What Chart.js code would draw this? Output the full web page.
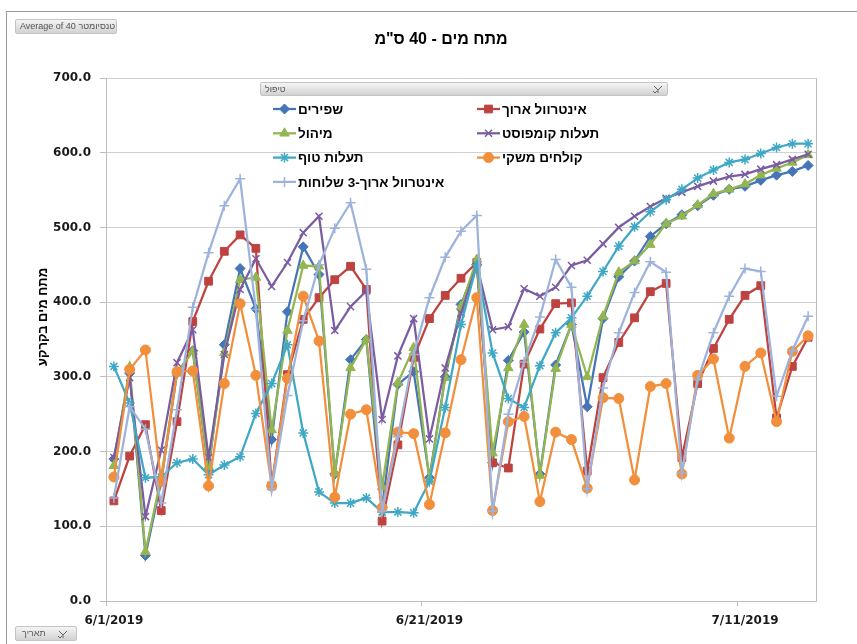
<!DOCTYPE html>
<html><head><meta charset="utf-8">
<script src="https://cdn.jsdelivr.net/npm/chart.js@4.4.0/dist/chart.umd.min.js"></script>
<style>
html,body{margin:0;padding:0;background:#fff;}
#wrap{position:relative;width:857px;height:644px;overflow:hidden;background:#fff;}
#frame{position:absolute;left:6px;top:11px;width:1000px;height:1000px;border-top:1px solid #9a9a9a;border-left:1px solid #9a9a9a;}
canvas{position:absolute;left:0;top:0;}
.btn{position:absolute;border:1px solid #c4c4c4;border-radius:2px;background:linear-gradient(#f4f4f4,#d2d2d2);font:9px "Liberation Sans",Arial,sans-serif;color:#555;box-sizing:border-box;white-space:nowrap;}
.btn svg{position:absolute;}
</style></head>
<body><div id="wrap"><div id="frame"></div><canvas id="c" width="857" height="644"></canvas>
<div class="btn" style="left:15px;top:19px;width:102px;height:15px;line-height:13px;padding-left:4px;" dir="ltr">Average of 40 טנסיומטר</div>
<div class="btn" style="left:260px;top:82px;width:408px;height:14px;line-height:12px;padding-left:4px;" dir="ltr"><span>טיפול</span>
<svg style="right:4px;top:2px" width="10" height="9" viewBox="0 0 10 9"><path d="M1 1 L5 5 L5 8 M9 1 L5 5" stroke="#666" fill="none" stroke-width="1"/><path d="M0 6 L2 8 L4 6" stroke="#666" fill="none" stroke-width="1"/></svg></div>
<div class="btn" style="left:15px;top:626px;width:62px;height:15px;line-height:13px;padding-left:6px;" dir="ltr"><span>תאריך</span>
<svg style="right:8px;top:3px" width="10" height="9" viewBox="0 0 10 9"><path d="M1 1 L5 5 L5 8 M9 1 L5 5" stroke="#666" fill="none" stroke-width="1"/><path d="M0 6 L2 8 L4 6" stroke="#666" fill="none" stroke-width="1"/></svg></div>
</div>
<script>
const dates = ['6/1/2019','6/2/2019','6/3/2019','6/4/2019','6/5/2019','6/6/2019','6/7/2019','6/8/2019','6/9/2019','6/10/2019',
'6/11/2019','6/12/2019','6/13/2019','6/14/2019','6/15/2019','6/16/2019','6/17/2019','6/18/2019','6/19/2019','6/20/2019',
'6/21/2019','6/22/2019','6/23/2019','6/24/2019','6/25/2019','6/26/2019','6/27/2019','6/28/2019','6/29/2019','6/30/2019',
'7/1/2019','7/2/2019','7/3/2019','7/4/2019','7/5/2019','7/6/2019','7/7/2019','7/8/2019','7/9/2019','7/10/2019',
'7/11/2019','7/12/2019','7/13/2019','7/14/2019','7/15/2019'];
const shownDates = ['6/1/2019','6/21/2019','7/11/2019'];
const yTicks = [0,100,200,300,400,500,600,700];

const chartTitle = 'מתח מים - 40 ס"מ';
const yTitle = 'מתח מים בקרקע';
const seriesNames = ['שפירים','אינטרוול ארוך','מיהול','תעלות קומפוסט','תעלות טוף','קולחים משקי','אינטרוול ארוך-3 שלוחות'];

const shapirim = [190,305,61,160,305,335,175,343,445,391,216,387,474,437,170,323,350,125,290,307,165,300,397,450,185,322,360,170,316,370,260,378,434,455,488,505,517,529,543,551,555,563,570,575,583];
const intervalArokh = [134,194,236,121,240,374,428,468,490,472,154,303,377,406,430,448,417,107,209,326,378,409,432,453,185,178,317,364,398,399,174,299,346,379,414,425,192,291,338,377,409,422,245,314,353];
const mihul = [181,313,66,166,305,334,180,332,430,433,229,362,449,448,171,312,350,153,292,339,162,299,394,457,198,312,370,168,311,370,300,381,440,455,477,505,515,530,545,551,558,570,579,587,597];
const taalotKompost = [192,299,113,202,319,363,192,330,417,458,421,453,493,515,362,394,415,243,328,378,217,312,385,450,363,367,418,408,420,449,456,478,500,515,528,539,547,555,562,568,571,578,584,591,598];
const taalotTuf = [314,265,165,166,185,190,169,182,193,251,291,343,225,146,131,131,138,119,119,118,160,259,370,450,332,271,259,315,359,379,408,441,475,501,521,537,551,566,577,587,591,599,607,612,612];
const kolchimMeshki = [166,310,336,160,307,308,154,291,398,302,154,298,408,348,139,250,256,125,226,224,129,225,323,406,121,240,247,133,226,216,151,272,271,162,287,291,170,302,324,218,314,332,240,334,355];
const interval3 = [138,260,230,131,256,393,466,529,565,390,150,275,375,450,499,533,444,120,220,330,406,460,495,516,120,250,320,380,457,420,150,285,359,413,454,440,171,296,359,408,445,441,274,335,381];

const seriesData = [shapirim,intervalArokh,mihul,taalotKompost,taalotTuf,kolchimMeshki,interval3];
const colors = ['#4575B8','#BE4340','#94B650','#7B5CA0','#3FA8C4','#F28F3C','#9DB3DC'];
const styles = ['rectRot','rect','triangle','crossRot','star','circle','cross'];
const radii = [5,5.5,5.5,5,5,5,5];
const filled = [true,true,true,false,false,true,false];

const datasets = seriesData.map((d,i)=>({
  label: seriesNames[i], data: d,
  borderColor: colors[i], backgroundColor: colors[i],
  borderWidth: 2.25, tension: 0,
  pointStyle: styles[i], pointRadius: radii[i], pointHoverRadius: radii[i],
  pointBackgroundColor: colors[i], pointBorderColor: colors[i],
  pointBorderWidth: filled[i] ? 1 : 1.5,
  order: 7 - i
}));

const axisFont = {family:'"DejaVu Sans", sans-serif', weight:'bold', size:12};

const overlay = {
  id:'overlay',
  afterDraw(chart){
    const ctx = chart.ctx, a = chart.chartArea;
    ctx.save();
    ctx.strokeStyle = '#bdbdbd'; ctx.lineWidth = 1;
    ctx.beginPath(); ctx.moveTo(Math.round(a.right)+0.5, a.top); ctx.lineTo(Math.round(a.right)+0.5, a.bottom); ctx.stroke();
    ctx.fillStyle = '#000';
    ctx.direction = 'rtl';
    ctx.textAlign = 'center'; ctx.textBaseline = 'middle';
    ctx.font = 'bold 16px "Liberation Sans", Arial, sans-serif';
    ctx.fillText(chartTitle, 441, 40);
    ctx.save();
    ctx.translate(43, 317); ctx.rotate(-Math.PI/2);
    ctx.font = 'bold 13px "Liberation Sans", Arial, sans-serif';
    ctx.fillText(yTitle, 0, 0);
    ctx.restore();
    const helpers = Chart.helpers;
    chart.data.datasets.forEach((ds,i)=>{
      const col = i % 2, row = Math.floor(i/2);
      const x0 = col ? 477 : 273;
      const y = 109 + row*24.3;
      ctx.strokeStyle = ds.borderColor; ctx.lineWidth = 2.25;
      ctx.beginPath(); ctx.moveTo(x0, y); ctx.lineTo(x0+23, y); ctx.stroke();
      ctx.fillStyle = ds.pointBackgroundColor; ctx.strokeStyle = ds.pointBorderColor;
      ctx.lineWidth = ds.pointBorderWidth;
      if (helpers && helpers.drawPoint) {
        helpers.drawPoint(ctx, {pointStyle: ds.pointStyle, radius: ds.pointRadius, borderWidth: ds.pointBorderWidth, rotation: 0}, x0+11.5, y);
      }
      ctx.fillStyle = '#000';
      ctx.direction = 'rtl'; ctx.textAlign = 'left'; ctx.textBaseline = 'middle';
      ctx.font = 'bold 13.5px "Liberation Sans", Arial, sans-serif';
      ctx.fillText(ds.label, x0+25, y+1);
    });
    ctx.restore();
  }
};

new Chart(document.getElementById('c'), {
  type: 'line',
  data: { labels: dates, datasets },
  options: {
    responsive: false, animation: false,
    layout: { padding: { top: 78, right: 41, bottom: 0, left: 0 } },
    plugins: { legend: {display:false}, title: {display:false}, tooltip: {enabled:false} },
    scales: {
      x: {
        offset: true,
        grid: { offset: true, drawOnChartArea: false, tickLength: 5,
                color: c => (c.index % 20 === 0) ? '#bdbdbd' : 'rgba(0,0,0,0)' },
        border: { color: '#bdbdbd' },
        ticks: { autoSkip: false, maxRotation: 0, minRotation: 0, padding: 8, color: '#1a1a1a', font: axisFont,
                 callback: (v,i) => shownDates.includes(dates[i]) ? dates[i] : '' },
        afterFit(s){ s.height = 43; }
      },
      y: {
        min: yTicks[0], max: yTicks[yTicks.length-1],
        afterBuildTicks(s){ s.ticks = yTicks.map(v=>({value:v})); },
        grid: { color: '#d0d0d0', tickLength: 6, tickColor: '#bdbdbd' },
        border: { color: '#bdbdbd' },
        ticks: { padding: 9, color: '#1a1a1a', font: axisFont, callback: v => Number(v).toFixed(1) },
        afterFit(s){ s.width = 106; }
      }
    }
  },
  plugins: [overlay]
});
</script>
</body></html>
